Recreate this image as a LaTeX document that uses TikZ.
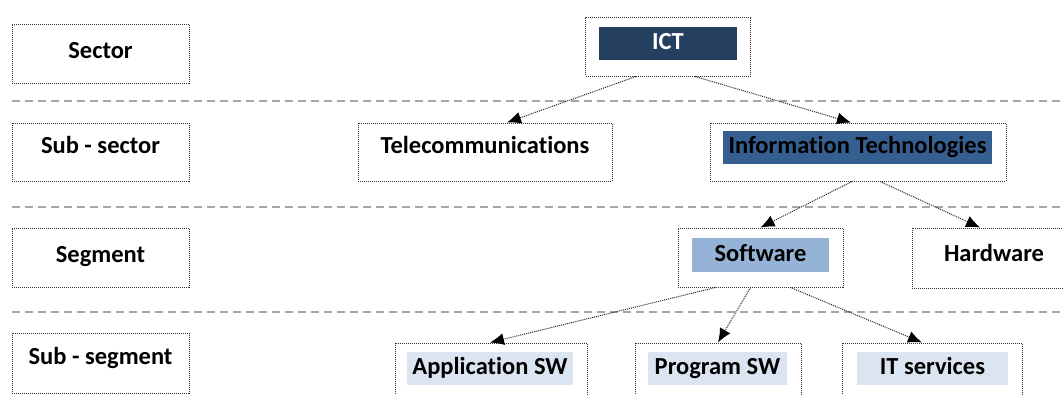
\documentclass[tikz,border=0pt]{standalone}
\usepackage{fontspec}
\setmainfont[Ligatures=NoCommon]{Carlito}
\usetikzlibrary{arrows.meta,calc}
\definecolor{ictfill}{HTML}{243F60}
\definecolor{itfill}{HTML}{365F91}
\definecolor{swfill}{HTML}{95B3D7}
\definecolor{leaffill}{HTML}{DBE5F1}
\definecolor{framecol}{HTML}{303030}
\definecolor{sepcol}{HTML}{A6A6A6}
\begin{document}
\begin{tikzpicture}[x=1pt,y=-1pt,
  every node/.style={font=\fontsize{24.5}{28}\selectfont\bfseries,
    text height=15.8pt, text depth=3pt},
  frame/.style={draw=framecol, densely dotted, line width=1pt, inner sep=0pt},
  fillbox/.style={inner sep=0pt, minimum height=33pt},
  sep/.style={draw=sepcol, line width=1.6pt, dash pattern=on 8pt off 5pt},
  conn/.style={draw=black!85, densely dotted, line width=1pt,
    -{Latex[length=14pt,width=12pt,color=black]}}]
\useasboundingbox (0,0) rectangle (1063,394);
\clip (0,0) rectangle (1063,394);

% level separators
\draw[sep] (12,101) -- (1063,101);
\draw[sep] (12,207) -- (1063,207);
\draw[sep] (12,312) -- (1063,312);

% level names
\node[frame, minimum width=177pt, minimum height=59pt] (sector) at (100.5,53.5) {};
\node (sectorlab) at (100.5,52) {Sector};
\node[frame, minimum width=177pt, minimum height=58pt] (subsector) at (100.5,152) {};
\node (subsectorlab) at (100.5,147.5) {Sub - sector};
\node[frame, minimum width=177pt, minimum height=59pt] (segment) at (100.5,257.5) {};
\node (segmentlab) at (100.5,256) {Segment};
\node[frame, minimum width=177pt, minimum height=60pt] (subsegment) at (100.5,363) {};
\node (subsegmentlab) at (100.5,358) {Sub - segment};

% sector
\node[frame, minimum width=165pt, minimum height=59pt] (ict) at (668,46.5) {};
\node[fillbox, fill=ictfill, text=white, minimum width=138pt] (ictlab) at (668,43.5) {ICT};

% sub-sectors
\node[frame, minimum width=254pt, minimum height=58pt] (tel) at (485,152) {};
\node (tellab) at (485,147.5) {Telecommunications};
\node[frame, minimum width=296pt, minimum height=58pt] (it) at (858,152) {};
\node[fillbox, fill=itfill, minimum width=269pt] (itlab) at (857.5,147.5) {Information Technologies};

% segments
\node[frame, minimum width=165pt, minimum height=59pt] (sw) at (760.5,257.5) {};
\node[fillbox, fill=swfill, minimum width=137pt, minimum height=34pt] (swlab) at (760.5,255) {Software};
\node[frame, minimum width=166pt, minimum height=60pt] (hw) at (995,258) {};
\node (hwlab) at (994,255.5) {Hardware};

% sub-segments
\node[frame, minimum width=192pt, minimum height=60pt] (app) at (491,373) {};
\node[fillbox, fill=leaffill, minimum width=166pt] (applab) at (490,368.5) {Application SW};
\node[frame, minimum width=166pt, minimum height=60pt] (prog) at (718,373) {};
\node[fillbox, fill=leaffill, minimum width=139pt] (proglab) at (717.5,368.5) {Program SW};
\node[frame, minimum width=180pt, minimum height=60pt] (its) at (932,373) {};
\node[fillbox, fill=leaffill, minimum width=151pt] (itslab) at (932.5,368.5) {IT services};

% connectors
\draw[conn] ($(ict.south)+(-32,0)$) -- ($(tel.north)+(22,0)$);
\draw[conn] ($(ict.south)+(27,0)$) -- ($(it.north)+(-7,0)$);
\draw[conn] ($(it.south)+(-6,0)$) -- ($(sw.north)+(0,0)$);
\draw[conn] ($(it.south)+(22,0)$) -- ($(hw.north)+(-15,0)$);
\draw[conn] ($(sw.south)+(-45,0)$) -- ($(app.north)+(-1,0)$);
\draw[conn] ($(sw.south)+(-10,0)$) -- ($(prog.north)+(0,0)$);
\draw[conn] ($(sw.south)+(30,0)$) -- ($(its.north)+(-10,0)$);
\end{tikzpicture}
\end{document}
